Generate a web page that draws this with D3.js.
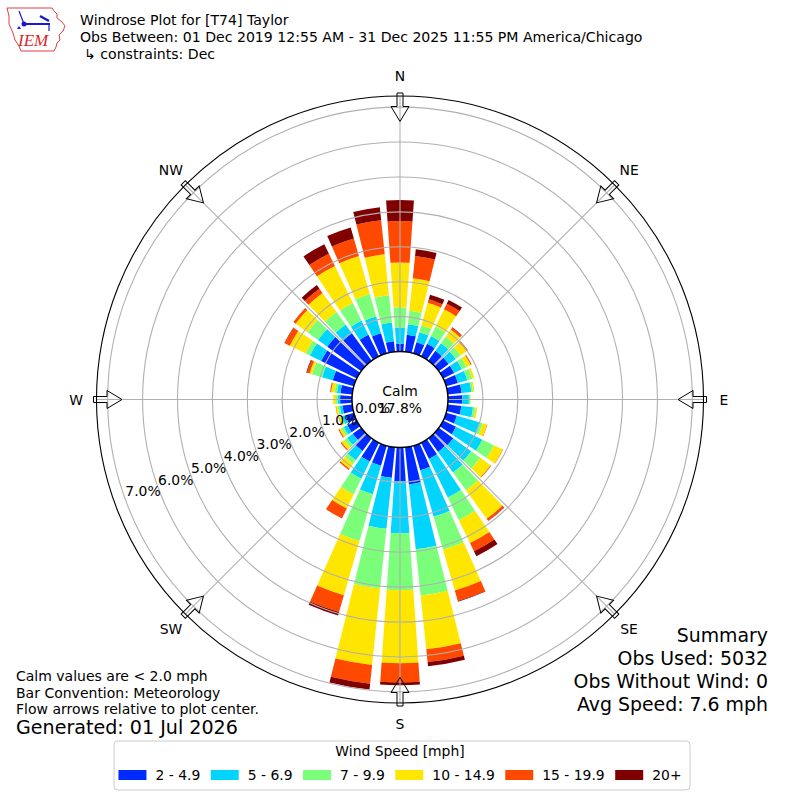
<!DOCTYPE html>
<html>
<head>
<meta charset="utf-8">
<script src="https://cdn.jsdelivr.net/npm/d3@7"></script>
<style>
  body { margin: 0; background: #fff; }
  svg text { font-family: 'DejaVu Sans', sans-serif; fill: #000; }
</style>
</head>
<body>
<svg id="rose" width="800" height="800"></svg>
<script>
// wind direction (deg, "from") and percent of obs in each speed bin
const directions = [0, 10, 20, 30, 40, 50, 60, 70, 80, 90, 100, 110, 120, 130, 140, 150, 160, 170,
                    180, 190, 200, 210, 220, 230, 240, 250, 260, 270, 280, 290, 300, 310, 320, 330, 340, 350];
const speed2to5   = [0.22, 0.49, 0.33, 0.40, 0.35, 0.35, 0.35, 0.35, 0.40, 0.41, 0.39, 0.32, 0.41, 0.51, 0.48, 0.52, 0.73, 1.07,
                     0.97, 0.88, 0.60, 0.60, 0.45, 0.30, 0.30, 0.25, 0.28, 0.34, 0.34, 0.63, 1.14, 1.20, 0.97, 0.69, 0.60, 0.30];
const speed5to7   = [0.47, 0.30, 0.30, 0.25, 0.27, 0.25, 0.25, 0.28, 0.28, 0.19, 0.34, 0.67, 0.84, 0.64, 0.73, 1.23, 1.39, 1.87,
                     1.49, 1.47, 0.85, 0.55, 0.33, 0.20, 0.12, 0.10, 0.08, 0.07, 0.10, 0.32, 0.36, 0.33, 0.31, 0.45, 0.50, 0.54];
const speed7to10  = [0.58, 0.39, 0.21, 0.30, 0.23, 0.18, 0.15, 0.15, 0.05, 0.04, 0.07, 0.10, 0.37, 0.32, 0.63, 0.72, 0.98, 1.33,
                     1.63, 1.72, 1.39, 0.50, 0.12, 0.10, 0.08, 0.05, 0.06, 0.05, 0.07, 0.30, 0.14, 0.37, 0.44, 0.56, 0.67, 0.79];
const speed10to15 = [1.28, 0.94, 0.67, 0.55, 0.25, 0.20, 0.13, 0.06, 0.04, 0.01, 0.05, 0.13, 0.28, 0.36, 1.01, 0.73, 1.22, 1.55,
                     2.09, 2.20, 1.62, 0.45, 0.18, 0.10, 0.06, 0.05, 0.05, 0.08, 0.10, 0.07, 0.50, 0.42, 0.68, 1.18, 1.13, 1.18];
const speed15to20 = [1.19, 0.64, 0.10, 0.18, 0.07, 0.04, 0.03, 0.00, 0.00, 0.00, 0.00, 0.01, 0.01, 0.02, 0.07, 0.26, 0.31, 0.37,
                     0.55, 0.54, 0.50, 0.32, 0.04, 0.03, 0.03, 0.01, 0.01, 0.00, 0.03, 0.08, 0.16, 0.08, 0.15, 0.39, 0.52, 0.98];
const speed20plus = [0.60, 0.19, 0.14, 0.12, 0.01, 0.01, 0.00, 0.00, 0.00, 0.00, 0.00, 0.00, 0.00, 0.00, 0.01, 0.16, 0.02, 0.12,
                     0.08, 0.17, 0.10, 0.00, 0.00, 0.00, 0.00, 0.00, 0.00, 0.00, 0.00, 0.02, 0.01, 0.00, 0.13, 0.30, 0.33, 0.37];

const speedBins = ['2 - 4.9', '5 - 6.9', '7 - 9.9', '10 - 14.9', '15 - 19.9', '20+'];
const binColors = ['#002aff', '#00d4ff', '#7bff7b', '#ffe600', '#ff4800', '#800000'];
const ringTicks = [0, 1, 2, 3, 4, 5, 6, 7];
const compassNames = ['N', 'NE', 'E', 'SE', 'S', 'SW', 'W', 'NW'];
const compassAngles = [0, 45, 90, 135, 180, 225, 270, 315];
const calmPct = 17.8;

const titleLines = ['Windrose Plot for [T74] Taylor',
                    'Obs Between: 01 Dec 2019 12:55 AM - 31 Dec 2025 11:55 PM America/Chicago',
                    '\u21b3 constraints: Dec'];
const summaryLines = ['Summary', 'Obs Used: 5032', 'Obs Without Wind: 0', 'Avg Speed: 7.6 mph'];
const noteLines = ['Calm values are < 2.0 mph', 'Bar Convention: Meteorology', 'Flow arrows relative to plot center.'];
const generatedText = 'Generated: 01 Jul 2026';

let svg = d3.select('#rose');
let cx = 400, cy = 399.5;
let rMax = 7.32;
let rScale = d3.scaleLinear().domain([0, rMax]).range([48, 303.5]);
let rad = function (deg) { return deg * Math.PI / 180; };

// build the stacked table
let keys = ['b0', 'b1', 'b2', 'b3', 'b4', 'b5'];
let series = [speed2to5, speed5to7, speed7to10, speed10to15, speed15to20, speed20plus];
let table = directions.map(function (d, i) {
	let row = {dir: d};
	keys.forEach(function (k, j) { row[k] = series[j][i]; });
	return row;
});
let stacked = d3.stack().keys(keys)(table);

let plot = svg.append('g').attr('transform', 'translate(' + cx + ',' + cy + ')');

let barArc = d3.arc()
	.innerRadius(function (d) { return rScale(d[0]); })
	.outerRadius(function (d) { return rScale(d[1]); })
	.startAngle(function (d) { return rad(d.data.dir - 4); })
	.endAngle(function (d) { return rad(d.data.dir + 4); });

plot.selectAll('.layer')
	.data(stacked)
	.enter().append('g')
	.attr('class', 'layer')
	.attr('fill', function (d, i) { return binColors[i]; })
	.selectAll('path')
	.data(function (d) { return d.filter(function (s) { return s[1] - s[0] > 0; }); })
	.enter().append('path')
	.attr('d', barArc);

// grid on top of the bars
plot.selectAll('.ring')
	.data(ringTicks.slice(1))
	.enter().append('circle')
	.attr('class', 'ring')
	.attr('r', function (d) { return rScale(d); })
	.attr('fill', 'none')
	.attr('stroke', '#b0b0b0')
	.attr('stroke-width', 1.1);

plot.selectAll('.spoke')
	.data(compassAngles)
	.enter().append('line')
	.attr('class', 'spoke')
	.attr('x1', 0).attr('y1', 0)
	.attr('x2', function (d) { return rScale(rMax) * Math.sin(rad(d)); })
	.attr('y2', function (d) { return -rScale(rMax) * Math.cos(rad(d)); })
	.attr('stroke', '#b0b0b0')
	.attr('stroke-width', 1.1);

plot.append('circle')
	.attr('r', rScale(rMax))
	.attr('fill', 'none')
	.attr('stroke', '#000')
	.attr('stroke-width', 1.1);

// flow arrows, pointing to the centre
let tail = rScale(rMax) + 3, headBase = rScale(rMax) - 10.5, tip = rScale(rMax) - 25.5;
let arrowPath = 'M-3,' + (-tail) + 'L3,' + (-tail) + 'L3,' + (-headBase) + 'L9,' + (-headBase) +
	'L0,' + (-tip) + 'L-9,' + (-headBase) + 'L-3,' + (-headBase) + 'Z';
plot.selectAll('.arrow')
	.data(compassAngles)
	.enter().append('path')
	.attr('class', 'arrow')
	.attr('d', arrowPath)
	.attr('transform', function (d) { return 'rotate(' + d + ')'; })
	.attr('fill', 'none')
	.attr('stroke', '#000')
	.attr('stroke-width', 1);

plot.selectAll('.dirlabel')
	.data(compassNames)
	.enter().append('text')
	.attr('class', 'dirlabel')
	.attr('x', function (d, i) { return 324 * Math.sin(rad(compassAngles[i])); })
	.attr('y', function (d, i) { return -324 * Math.cos(rad(compassAngles[i])); })
	.attr('text-anchor', 'middle')
	.attr('dominant-baseline', 'central')
	.attr('font-size', 13.9)
	.text(function (d) { return d; });

// calm circle
plot.append('circle')
	.attr('r', rScale(0))
	.attr('fill', '#fff')
	.attr('stroke', '#000')
	.attr('stroke-width', 1.5);

plot.selectAll('.rlabel')
	.data(ringTicks)
	.enter().append('text')
	.attr('class', 'rlabel')
	.attr('x', function (d) { return rScale(d) * Math.sin(rad(250)); })
	.attr('y', function (d) { return -rScale(d) * Math.cos(rad(250)) - 3; })
	.attr('font-size', 13.9)
	.text(function (d) { return d3.format('.1f')(d) + '%'; });

plot.append('text')
	.attr('x', 0).attr('y', -3.5)
	.attr('text-anchor', 'middle')
	.attr('font-size', 13.9)
	.text('Calm');
plot.append('text')
	.attr('x', 0).attr('y', 13.5)
	.attr('text-anchor', 'middle')
	.attr('font-size', 13.9)
	.text(d3.format('.1f')(calmPct) + '%');

// header
svg.selectAll('.title')
	.data(titleLines)
	.enter().append('text')
	.attr('class', 'title')
	.attr('x', function (d, i) { return i == 2 ? 84 : 80; })
	.attr('y', function (d, i) { return 25 + i * 17; })
	.attr('font-size', 14.1)
	.text(function (d) { return d; });

// IEM logo
let logo = svg.append('g');
logo.append('path')
	.attr('d', 'M7,8L52,8L54,11L57,14L57,18L62,22L65,26L63,31L59,35L60,40L57,43L56,47L54,51L21,51L19,46L15,40L13,33L9,24L9,16Z')
	.attr('fill', 'none')
	.attr('stroke', '#e04040')
	.attr('stroke-width', 1);
logo.append('line').attr('x1', 19).attr('y1', 11).attr('x2', 24).attr('y2', 24)
	.attr('stroke', '#1a1acc').attr('stroke-width', 1.2);
logo.append('line').attr('x1', 24).attr('y1', 24).attr('x2', 50).attr('y2', 24)
	.attr('stroke', '#1a1acc').attr('stroke-width', 2);
logo.append('line').attr('x1', 40).attr('y1', 16).attr('x2', 49).attr('y2', 21)
	.attr('stroke', '#1a1acc').attr('stroke-width', 2.5);
logo.append('line').attr('x1', 49).attr('y1', 24).attr('x2', 49).attr('y2', 31)
	.attr('stroke', '#1a1acc').attr('stroke-width', 1.2);
logo.append('circle').attr('cx', 24).attr('cy', 24).attr('r', 2.5).attr('fill', '#1a1acc');
logo.append('path').attr('d', 'M17,29L21,29L19,26Z').attr('fill', '#1a1acc');
logo.append('text')
	.attr('x', 18).attr('y', 46)
	.attr('font-size', 17)
	.attr('font-style', 'italic')
	.style('font-family', "'Liberation Serif', serif")
	.style('fill', '#d42a2a')
	.text('IEM');

// summary block
svg.selectAll('.summary')
	.data(summaryLines)
	.enter().append('text')
	.attr('class', 'summary')
	.attr('x', 768)
	.attr('y', function (d, i) { return 642 + i * 23; })
	.attr('text-anchor', 'end')
	.attr('font-size', 18.9)
	.text(function (d) { return d; });

svg.selectAll('.note')
	.data(noteLines)
	.enter().append('text')
	.attr('class', 'note')
	.attr('x', 16)
	.attr('y', function (d, i) { return 681 + i * 16.5; })
	.attr('font-size', 14)
	.text(function (d) { return d; });
svg.append('text')
	.attr('x', 16).attr('y', 734)
	.attr('font-size', 19.1)
	.text(generatedText);

// legend
let legend = svg.append('g');
legend.append('rect')
	.attr('x', 114).attr('y', 741)
	.attr('width', 576).attr('height', 49)
	.attr('rx', 4)
	.attr('fill', '#fff')
	.attr('stroke', '#cccccc')
	.attr('stroke-width', 1);
legend.append('text')
	.attr('x', 400).attr('y', 756)
	.attr('text-anchor', 'middle')
	.attr('font-size', 13.9)
	.text('Wind Speed [mph]');

let items = legend.selectAll('.item')
	.data(speedBins)
	.enter().append('g')
	.attr('class', 'item');
items.append('rect')
	.attr('width', 28).attr('height', 10)
	.attr('y', 770)
	.attr('fill', function (d, i) { return binColors[i]; });
items.append('text')
	.attr('y', 779.5)
	.attr('font-size', 13.9)
	.text(function (d) { return d; });

let widths = [];
items.select('text').each(function () { widths.push(this.getComputedTextLength()); });
let gap = 10.5;
let total = d3.sum(widths) + widths.length * 37 + (widths.length - 1) * gap;
let xPos = 400 - total / 2;
items.each(function (d, i) {
	let item = d3.select(this);
	item.select('rect').attr('x', xPos);
	item.select('text').attr('x', xPos + 37);
	xPos += 37 + widths[i] + gap;
});
</script>
</body>
</html>
